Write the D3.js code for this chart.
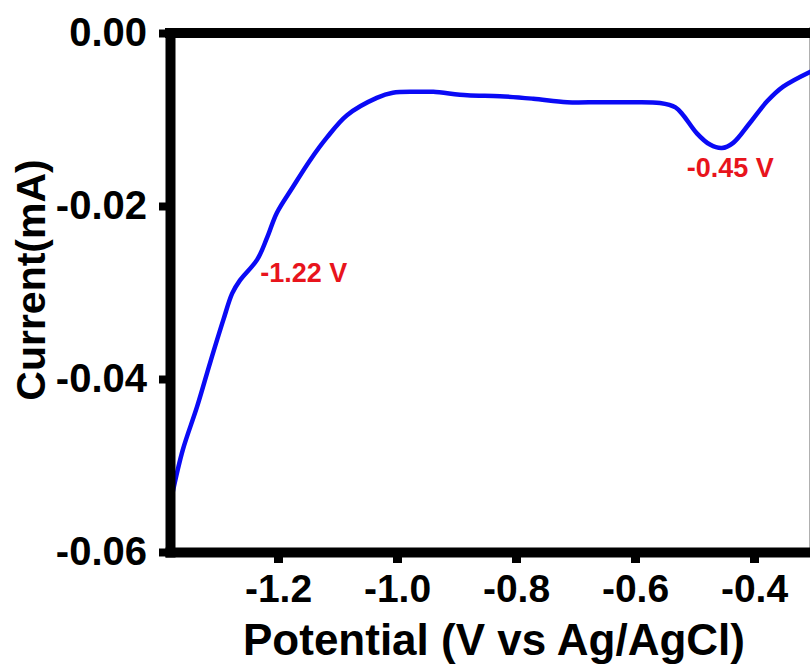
<!DOCTYPE html>
<html>
<head>
<meta charset="utf-8">
<script src="https://cdn.jsdelivr.net/npm/d3@7"></script>
<style>
  html, body { margin: 0; padding: 0; background: #fff; }
  svg { display: block; }
  text { font-family: "Liberation Sans", Arial, sans-serif; font-weight: bold; }
</style>
</head>
<body>
<svg id="chart" width="810" height="664"></svg>
<script>
// ---- data ----
const potential = [-1.378, -1.360, -1.336, -1.314, -1.292, -1.277, -1.264, -1.235, -1.218, -1.202,
  -1.175, -1.146, -1.118, -1.084, -1.034, -1.007, -0.961, -0.939, -0.882, -0.827,
  -0.771, -0.714, -0.659, -0.603, -0.558, -0.532, -0.519, -0.496, -0.474, -0.454,
  -0.435, -0.407, -0.378, -0.351, -0.306];
const current = [-0.0534, -0.0482, -0.0432, -0.0381, -0.0332, -0.0301, -0.0286, -0.0262, -0.0236, -0.0208,
  -0.0178, -0.0147, -0.0121, -0.0095, -0.0075, -0.0069, -0.0068, -0.0068, -0.0072, -0.0073,
  -0.0076, -0.0080, -0.0080, -0.0080, -0.0081, -0.0086, -0.0095, -0.0116, -0.0129, -0.0133,
  -0.0127, -0.0104, -0.0079, -0.0062, -0.0045];
const xTicks = [-1.2, -1.0, -0.8, -0.6, -0.4];
const yTicks = [0.00, -0.02, -0.04, -0.06];
const xTickLabels = ["-1.2", "-1.0", "-0.8", "-0.6", "-0.4"];
const yTickLabels = ["0.00", "-0.02", "-0.04", "-0.06"];
const annLabels = ["-1.22 V", "-0.45 V"];
const annPotential = [-1.230, -0.440];
const annCurrent = [-0.0288, -0.0167];
const annAnchor = ["start", "middle"];
const xTitle = "Potential (V vs Ag/AgCl)";
const yTitle = "Current(mA)";

// ---- layout ----
const mLeft = 170, mRight = 810, mTop = 33, mBottom = 552;
const svg = d3.select("#chart");

const x = d3.scaleLinear().domain([-1.3815, -0.3059]).range([mLeft, mRight]);
const y = d3.scaleLinear().domain([0, -0.06]).range([mTop, mBottom]);

// light frame at right edge
svg.append("line")
  .attr("x1", 809.5).attr("x2", 809.5).attr("y1", mTop - 6).attr("y2", mBottom + 5)
  .attr("stroke", "#b0b0b0").attr("stroke-width", 1);

// curve
const pts = potential.map((v, i) => [v, current[i]]);
const line = d3.line().x(d => x(d[0])).y(d => y(d[1])).curve(d3.curveCatmullRom.alpha(0.5));
svg.append("path")
  .datum(pts)
  .attr("d", line)
  .attr("fill", "none")
  .attr("stroke", "#0a0af5")
  .attr("stroke-width", 4.5)
  .attr("stroke-linejoin", "round")
  .attr("stroke-linecap", "round");

// top axis line
svg.append("line")
  .attr("x1", mLeft).attr("x2", mRight).attr("y1", mTop).attr("y2", mTop)
  .attr("stroke", "#000").attr("stroke-width", 10).attr("stroke-linecap", "square");

// y axis
const yAxis = d3.axisLeft(y).tickValues(yTicks)
  .tickFormat((d, i) => yTickLabels[i])
  .tickSize(11).tickSizeOuter(0).tickPadding(12);
const gy = svg.append("g").attr("transform", `translate(${mLeft},0)`).call(yAxis);
gy.select(".domain").attr("stroke", "#000").attr("stroke-width", 10).attr("stroke-linecap", "square");
gy.selectAll(".tick line").attr("stroke", "#000").attr("stroke-width", 8);
gy.selectAll(".tick text").attr("font-size", 40).attr("fill", "#000")
  .style("font-family", '"Liberation Sans", Arial, sans-serif').style("font-weight", "bold");

// x axis
const xAxis = d3.axisBottom(x).tickValues(xTicks).tickFormat((d, i) => xTickLabels[i])
  .tickSize(11).tickSizeOuter(0).tickPadding(11);
const gx = svg.append("g").attr("transform", `translate(0,${mBottom})`).call(xAxis);
gx.select(".domain").attr("stroke", "#000").attr("stroke-width", 10).attr("stroke-linecap", "square");
gx.selectAll(".tick line").attr("stroke", "#000").attr("stroke-width", 9);
gx.selectAll(".tick text").attr("font-size", 39).attr("fill", "#000")
  .style("font-family", '"Liberation Sans", Arial, sans-serif').style("font-weight", "bold");

// annotations
annLabels.forEach((t, i) => {
  svg.append("text")
    .attr("x", x(annPotential[i])).attr("y", y(annCurrent[i]))
    .attr("text-anchor", annAnchor[i])
    .attr("font-size", 27)
    .attr("fill", "#e8141c")
    .text(t);
});

// axis titles
svg.append("text")
  .attr("x", 494).attr("y", 655)
  .attr("text-anchor", "middle")
  .attr("font-size", 44)
  .attr("fill", "#000")
  .text(xTitle);

svg.append("text")
  .attr("transform", "translate(45,280) rotate(-90)")
  .attr("text-anchor", "middle")
  .attr("font-size", 41)
  .attr("fill", "#000")
  .text(yTitle);
</script>
</body>
</html>
